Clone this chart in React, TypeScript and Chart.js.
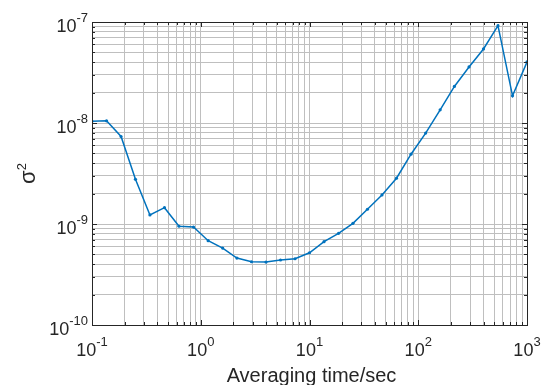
import React, { useEffect, useRef } from "react";
import { Chart, registerables } from "chart.js";

Chart.register(...registerables);

// Averaging times (s)
const tauValues = [
  0.1, 0.136, 0.185, 0.251, 0.341, 0.464, 0.631, 0.858, 1.17, 1.59, 2.15,
  2.93, 3.98, 5.41, 7.36, 10.0, 13.6, 18.5, 25.1, 34.1, 46.4, 63.1, 85.8,
  117, 159, 215, 293, 398, 541, 736, 1000,
];

// Allan variance values
const sigma2Values = [
  1.04e-8, 1.05e-8, 7.35e-9, 2.77e-9, 1.23e-9, 1.45e-9, 9.5e-10, 9.33e-10,
  6.83e-10, 5.78e-10, 4.6e-10, 4.23e-10, 4.2e-10, 4.4e-10, 4.53e-10,
  5.19e-10, 6.68e-10, 8.09e-10, 1.016e-9, 1.4e-9, 1.94e-9, 2.84e-9, 4.91e-9,
  7.94e-9, 1.35e-8, 2.3e-8, 3.59e-8, 5.41e-8, 9.2e-8, 1.86e-8, 4.02e-8,
];

// Decade tick labels (10^exponent)
const xMajorExponents = [-1, 0, 1, 2, 3];
const yMajorExponents = [-10, -9, -8, -7];

const xAxisTitle = "Averaging time/sec";
const yAxisTitleBase = "σ";
const yAxisTitleSup = "2";

const FONT = '"Liberation Sans", Arial, Helvetica, sans-serif';
const LINE_COLOR = "#0072BD";
const GRID_COLOR = "#bfbfbf";
const AXIS_COLOR = "#262626";
const TEXT_COLOR = "#262626";

type TickDef = { value: number; major: boolean };

function decadeTicks(exps: number[]): TickDef[] {
  const out: TickDef[] = [];
  for (let i = 0; i < exps.length; i++) {
    const base = Math.pow(10, exps[i]);
    out.push({ value: base, major: true });
    if (i < exps.length - 1) {
      for (let m = 2; m <= 9; m++) out.push({ value: m * base, major: false });
    }
  }
  return out;
}

const xTicks = decadeTicks(xMajorExponents);
const yTicks = decadeTicks(yMajorExponents);

const matlabAxesPlugin = {
  id: "matlabAxes",
  afterDraw(chart: any) {
    const ctx: CanvasRenderingContext2D = chart.ctx;
    const { left, right, top, bottom } = chart.chartArea;
    const xs = chart.scales.x;
    const ys = chart.scales.y;
    ctx.save();

    // inward tick marks on all four sides
    ctx.strokeStyle = AXIS_COLOR;
    ctx.lineWidth = 1;
    ctx.beginPath();
    for (const t of xTicks) {
      const px = Math.round(xs.getPixelForValue(t.value)) + 0.5;
      const len = t.major ? 5 : 3;
      ctx.moveTo(px, bottom);
      ctx.lineTo(px, bottom - len);
      ctx.moveTo(px, top);
      ctx.lineTo(px, top + len);
    }
    for (const t of yTicks) {
      const py = Math.round(ys.getPixelForValue(t.value)) + 0.5;
      const len = t.major ? 5 : 3;
      ctx.moveTo(left, py);
      ctx.lineTo(left + len, py);
      ctx.moveTo(right, py);
      ctx.lineTo(right - len, py);
    }
    ctx.stroke();

    // box
    const l = Math.round(left) + 0.5;
    const tp = Math.round(top) + 0.5;
    const r = Math.round(right) + 0.5;
    const b = Math.round(bottom) + 0.5;
    ctx.strokeRect(l, tp, r - l, b - tp);

    // tick labels
    ctx.fillStyle = TEXT_COLOR;
    ctx.textAlign = "left";
    ctx.textBaseline = "alphabetic";
    const mainFont = `18px ${FONT}`;
    const supFont = `13px ${FONT}`;
    for (const e of xMajorExponents) {
      const px = xs.getPixelForValue(Math.pow(10, e));
      ctx.font = mainFont;
      const w1 = ctx.measureText("10").width;
      ctx.font = supFont;
      const w2 = ctx.measureText(String(e)).width;
      const x0 = px - (w1 + w2) / 2;
      ctx.font = mainFont;
      ctx.fillText("10", x0, 356);
      ctx.font = supFont;
      ctx.fillText(String(e), x0 + w1, 346);
    }
    for (const e of yMajorExponents) {
      const py = ys.getPixelForValue(Math.pow(10, e));
      ctx.font = mainFont;
      const w1 = ctx.measureText("10").width;
      ctx.font = supFont;
      const w2 = ctx.measureText(String(e)).width;
      const x0 = left - 4 - (w1 + w2);
      ctx.font = mainFont;
      ctx.fillText("10", x0, py + 10);
      ctx.font = supFont;
      ctx.fillText(String(e), x0 + w1, py);
    }

    // x-axis title
    ctx.font = `20px ${FONT}`;
    ctx.textAlign = "center";
    ctx.fillText(xAxisTitle, (left + right) / 2 + 2, 382);

    // y-axis title (rotated)
    ctx.save();
    ctx.translate(28, (top + bottom) / 2);
    ctx.rotate(-Math.PI / 2);
    ctx.textAlign = "left";
    const sFont = `22px ${FONT}`;
    const s2Font = `13px ${FONT}`;
    ctx.font = sFont;
    const ws = ctx.measureText(yAxisTitleBase).width;
    ctx.font = s2Font;
    const ws2 = ctx.measureText(yAxisTitleSup).width;
    const sx = -(ws + ws2) / 2;
    ctx.font = sFont;
    ctx.fillText(yAxisTitleBase, sx, 7);
    ctx.font = s2Font;
    ctx.fillText(yAxisTitleSup, sx + ws, -2);
    ctx.restore();

    ctx.restore();
  },
};

export default function App() {
  const canvasRef = useRef<HTMLCanvasElement | null>(null);

  useEffect(() => {
    if (!canvasRef.current) return;
    const points = tauValues.map((x, i) => ({ x, y: sigma2Values[i] }));
    const chart = new Chart(canvasRef.current, {
      type: "line",
      data: {
        datasets: [
          {
            data: points,
            borderColor: LINE_COLOR,
            backgroundColor: LINE_COLOR,
            borderWidth: 1.5,
            pointRadius: 1.6,
            pointBorderWidth: 0,
            pointBackgroundColor: LINE_COLOR,
            tension: 0,
            fill: false,
          },
        ],
      },
      options: {
        responsive: false,
        animation: false,
        events: [],
        layout: { padding: { left: 0, top: 22, right: 15, bottom: 0 } },
        plugins: {
          legend: { display: false },
          tooltip: { enabled: false },
          title: { display: false },
        },
        scales: {
          x: {
            type: "logarithmic",
            min: 0.1,
            max: 1000,
            afterBuildTicks: (s: any) => {
              s.ticks = xTicks.map((t) => ({ value: t.value, major: t.major }));
            },
            afterFit: (s: any) => {
              s.height = 60;
            },
            ticks: { display: false },
            grid: { color: GRID_COLOR, lineWidth: 1, drawTicks: false },
            border: { display: false },
          },
          y: {
            type: "logarithmic",
            min: 1e-10,
            max: 1e-7,
            afterBuildTicks: (s: any) => {
              s.ticks = yTicks.map((t) => ({ value: t.value, major: t.major }));
            },
            afterFit: (s: any) => {
              s.width = 92;
            },
            ticks: { display: false },
            grid: { color: GRID_COLOR, lineWidth: 1, drawTicks: false },
            border: { display: false },
          },
        },
      } as any,
      plugins: [matlabAxesPlugin],
    });
    return () => chart.destroy();
  }, []);

  return (
    <div style={{ position: "fixed", left: 0, top: 0, width: 542, height: 385, background: "#ffffff" }}>
      <canvas ref={canvasRef} width={542} height={385} style={{ display: "block" }} />
    </div>
  );
}
